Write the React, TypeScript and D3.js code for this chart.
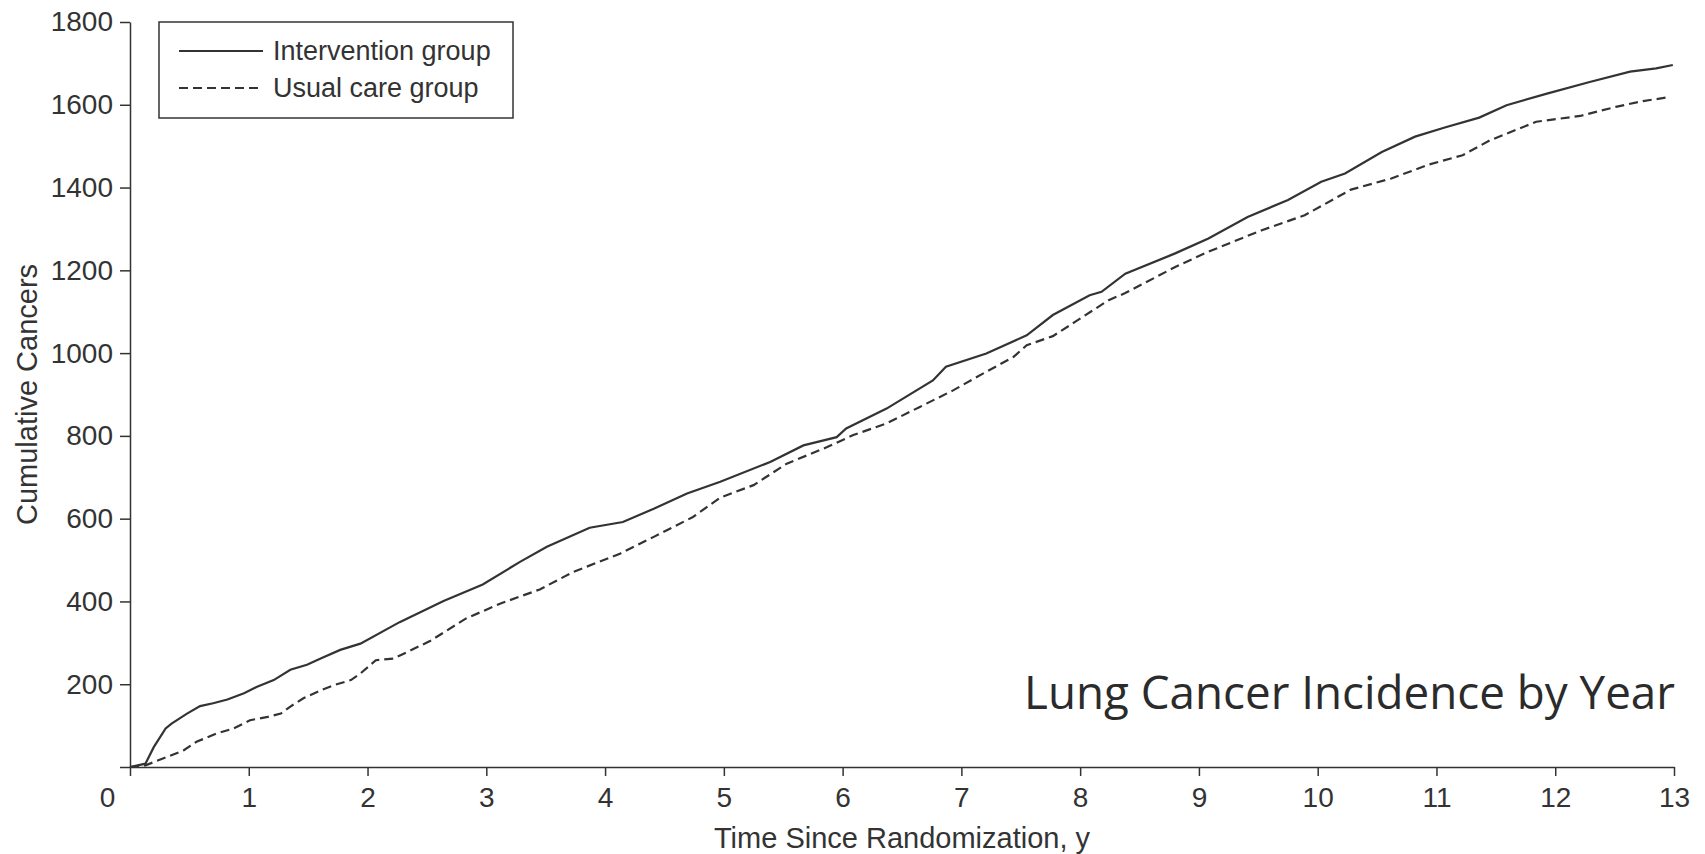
import React, { useEffect, useRef } from 'react';
import * as d3 from 'd3';

// Intervention group (solid line)
const interventionYears = [0, 0.13, 0.2, 0.3, 0.35, 0.48, 0.59, 0.7, 0.82, 0.96, 1.07, 1.21, 1.35, 1.49, 1.61, 1.77, 1.94, 2.27, 2.64, 2.97, 3.28, 3.51, 3.87, 4.15, 4.41, 4.69, 4.97, 5.39, 5.67, 5.95, 6.03, 6.37, 6.76, 6.87, 7.21, 7.55, 7.77, 8.08, 8.18, 8.38, 8.8, 9.08, 9.41, 9.75, 10.03, 10.23, 10.54, 10.82, 11.07, 11.36, 11.59, 11.93, 12.29, 12.63, 12.85, 12.99];
const interventionCancers = [0, 8, 48, 93, 105, 129, 147, 154, 163, 178, 194, 210, 235, 247, 263, 283, 298, 350, 401, 441, 495, 532, 578, 592, 624, 661, 689, 737, 777, 797, 818, 866, 934, 967, 999, 1043, 1092, 1140, 1148, 1192, 1241, 1277, 1329, 1370, 1414, 1434, 1486, 1523, 1545, 1569, 1599, 1627, 1655, 1680, 1688, 1696];

// Usual care group (dashed line)
const usualYears = [0, 0.13, 0.31, 0.45, 0.56, 0.73, 0.87, 1.01, 1.16, 1.27, 1.35, 1.46, 1.61, 1.72, 1.86, 1.94, 2.07, 2.22, 2.53, 2.83, 3.12, 3.45, 3.73, 4.13, 4.41, 4.74, 4.97, 5.25, 5.53, 5.87, 6.09, 6.37, 6.65, 6.93, 7.21, 7.44, 7.55, 7.77, 7.96, 8.24, 8.38, 8.8, 9.08, 9.53, 9.89, 10.28, 10.62, 10.94, 11.22, 11.45, 11.84, 12.21, 12.51, 12.74, 12.95];
const usualCancers = [0, 4, 24, 40, 61, 81, 93, 113, 121, 129, 146, 166, 186, 198, 210, 226, 258, 262, 305, 359, 395, 429, 471, 516, 556, 604, 651, 681, 733, 773, 802, 830, 870, 910, 955, 991, 1019, 1041, 1076, 1128, 1145, 1208, 1245, 1297, 1333, 1395, 1422, 1456, 1478, 1514, 1559, 1573, 1595, 1609, 1618];

const xTicks = [0, 1, 2, 3, 4, 5, 6, 7, 8, 9, 10, 11, 12, 13];
const yTicks = [0, 200, 400, 600, 800, 1000, 1200, 1400, 1600, 1800];
const legendLabels = ['Intervention group', 'Usual care group'];

const App: React.FC = () => {
  const svgRef = useRef<SVGSVGElement>(null);

  useEffect(() => {
    if (!svgRef.current) return;
    document.body.style.margin = '0';

    const svg = d3.select(svgRef.current);
    svg.selectAll('*').remove();

    const ink = '#333';
    const font = '"Liberation Sans", Arial, Helvetica, sans-serif';

    const x = d3.scaleLinear().domain([0, 13]).range([130, 1674]);
    const y = d3.scaleLinear().domain([0, 1800]).range([767, 22]);

    // x axis
    const gx = svg.append('g')
      .attr('transform', `translate(0,${y(0)})`)
      .call(d3.axisBottom(x).tickValues(xTicks).tickSize(9).tickPadding(11).tickSizeOuter(0).tickFormat(d3.format('d')));
    gx.select('.domain').attr('stroke', ink).attr('stroke-width', 1.5);
    gx.selectAll('line').attr('stroke', ink).attr('stroke-width', 1.5);
    gx.selectAll('text').attr('font-size', 28).attr('font-family', font).attr('fill', ink);
    // the "0" sits left of the origin
    gx.selectAll<SVGTextElement, number>('text').filter(d => d === 0).attr('dx', -23);

    // y axis
    const gy = svg.append('g')
      .attr('transform', `translate(${x(0)},0)`)
      .call(d3.axisLeft(y).tickValues(yTicks).tickSize(10).tickPadding(7).tickSizeOuter(0)
        .tickFormat(d => (+d === 0 ? '' : String(d))));
    gy.select('.domain').attr('stroke', ink).attr('stroke-width', 1.5);
    gy.selectAll('line').attr('stroke', ink).attr('stroke-width', 1.5);
    gy.selectAll('text').attr('font-size', 28).attr('font-family', font).attr('fill', ink);

    // lines
    const line = d3.line<[number, number]>()
      .x(d => x(d[0]))
      .y(d => y(d[1]));

    const interventionData = interventionYears.map((t, i) => [t, interventionCancers[i]] as [number, number]);
    const usualData = usualYears.map((t, i) => [t, usualCancers[i]] as [number, number]);

    svg.append('path')
      .datum(usualData)
      .attr('d', line)
      .attr('fill', 'none')
      .attr('stroke', ink)
      .attr('stroke-width', 2.2)
      .attr('stroke-dasharray', '9,5');

    svg.append('path')
      .datum(interventionData)
      .attr('d', line)
      .attr('fill', 'none')
      .attr('stroke', ink)
      .attr('stroke-width', 2.2);

    // axis titles
    svg.append('text')
      .attr('x', (x(0) + x(13)) / 2)
      .attr('y', 848)
      .attr('text-anchor', 'middle')
      .attr('font-size', 29)
      .attr('font-family', font)
      .attr('fill', ink)
      .text('Time Since Randomization, y');

    svg.append('text')
      .attr('transform', `translate(37,${(y(0) + y(1800)) / 2}) rotate(-90)`)
      .attr('text-anchor', 'middle')
      .attr('font-size', 29)
      .attr('font-family', font)
      .attr('fill', ink)
      .text('Cumulative Cancers');

    // legend
    const legend = svg.append('g');
    legend.append('rect')
      .attr('x', 159).attr('y', 22)
      .attr('width', 354).attr('height', 96)
      .attr('fill', '#fff')
      .attr('stroke', ink)
      .attr('stroke-width', 1.5);

    legendLabels.forEach((label, i) => {
      const ly = 51 + i * 37;
      legend.append('line')
        .attr('x1', 179).attr('x2', 263)
        .attr('y1', ly).attr('y2', ly)
        .attr('stroke', ink)
        .attr('stroke-width', 2.2)
        .attr('stroke-dasharray', i === 0 ? null : '9,5');
      legend.append('text')
        .attr('x', 273).attr('y', ly)
        .attr('dy', '0.35em')
        .attr('font-size', 27)
        .attr('font-family', font)
        .attr('fill', ink)
        .text(label);
    });

    // chart title inside plot, sized to span the same width as the reference
    const title = svg.append('text')
      .attr('x', 1675)
      .attr('y', 709)
      .attr('text-anchor', 'end')
      .attr('font-size', 48)
      .attr('font-family', '"Open Sans", "Noto Sans", sans-serif')
      .attr('fill', '#2b2b2b')
      .text('Lung Cancer Incidence by Year');
    const w = (title.node() as SVGTextElement).getComputedTextLength();
    if (w > 0) title.attr('font-size', Math.min(52, 48 * 651 / w));
  }, []);

  return <svg ref={svgRef} width={1705} height={854} style={{ display: 'block', background: '#fff' }} />;
};

export default App;
